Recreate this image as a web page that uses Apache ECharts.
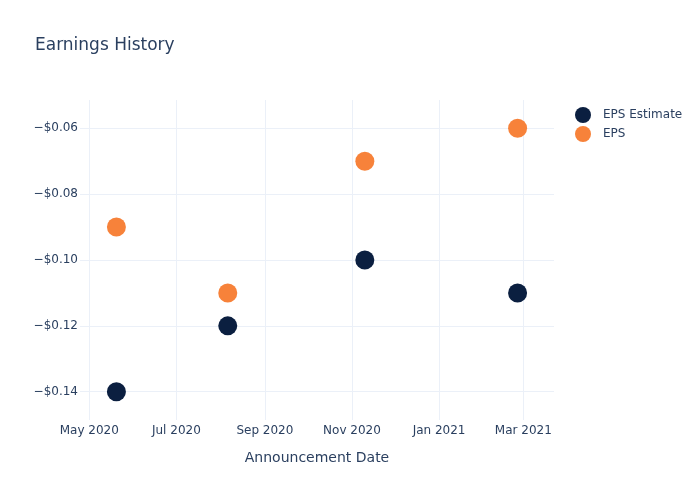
<!DOCTYPE html>
<html><head><meta charset="utf-8">
<script src="https://cdn.jsdelivr.net/npm/echarts@6/dist/echarts.min.js"></script>
<style>html,body{margin:0;padding:0;background:#fff}#c{width:700px;height:500px}</style>
</head><body><div id="c"></div>
<script>
const dates = ['2020-05-20', '2020-08-06', '2020-11-10', '2021-02-25'];
const epsEstimate = [-0.14, -0.12, -0.10, -0.11];
const eps = [-0.09, -0.11, -0.07, -0.06];
const xTicks = ['2020-05-01', '2020-07-01', '2020-09-01', '2020-11-01', '2021-01-01', '2021-03-01'];
const yTicks = [-0.14, -0.12, -0.10, -0.08, -0.06];
const monthNames = ['Jan','Feb','Mar','Apr','May','Jun','Jul','Aug','Sep','Oct','Nov','Dec'];

const ts = s => { const [y,m,d] = s.split('-').map(Number); return Date.UTC(y, m-1, d); };
const xTickVals = xTicks.map(ts);
const font = 'DejaVu Sans';
const txt = '#2a3f5f';
const grid = '#ebf0f8';

const chart = echarts.init(document.getElementById('c'), null, {renderer: 'canvas'});
chart.setOption({
  animation: false,
  backgroundColor: '#fff',
  textStyle: {fontFamily: font},
  title: {text: 'Earnings History', left: 30, top: 32,
    textStyle: {fontFamily: font, fontSize: 17, fontWeight: 'normal', color: txt}},
  legend: {orient: 'vertical', left: 575, top: 107, padding: 0, itemGap: 3, itemWidth: 16, itemHeight: 16,
    icon: 'circle', textStyle: {fontFamily: font, fontSize: 12, color: txt, padding: [0, 0, 0, 7]},
    data: ['EPS Estimate', 'EPS']},
  grid: {left: 80, right: 146, top: 100, bottom: 80, containLabel: false},
  xAxis: {
    type: 'value',
    min: Date.UTC(2020, 3, 24, 12), max: Date.UTC(2021, 2, 22, 12),
    name: 'Announcement Date', nameLocation: 'middle', nameGap: 31,
    nameTextStyle: {fontFamily: font, fontSize: 14, color: txt},
    axisLine: {show: false},
    axisTick: {show: false, customValues: xTickVals},
    axisLabel: {customValues: xTickVals, color: txt, fontFamily: font, fontSize: 12, margin: 5,
      formatter: v => { const d = new Date(v); return monthNames[d.getUTCMonth()] + ' ' + d.getUTCFullYear(); }},
    splitLine: {show: true, lineStyle: {color: grid, width: 1}}
  },
  yAxis: {
    type: 'value',
    min: -0.1486, max: -0.0514,
    axisLine: {show: false},
    axisTick: {show: false, customValues: yTicks},
    axisLabel: {customValues: yTicks, color: txt, fontFamily: font, fontSize: 12, margin: 2,
      formatter: v => (v < 0 ? '\u2212' : '') + '$' + Math.abs(v).toFixed(2)},
    splitLine: {show: true, lineStyle: {color: grid, width: 1}}
  },
  series: [
    {name: 'EPS Estimate', type: 'scatter', symbolSize: 19,
      itemStyle: {color: '#0b1f40', opacity: 1},
      data: dates.map((d, i) => [ts(d), epsEstimate[i]])},
    {name: 'EPS', type: 'scatter', symbolSize: 19,
      itemStyle: {color: '#f7823a', opacity: 1},
      data: dates.map((d, i) => [ts(d), eps[i]])}
  ]
});
</script></body></html>
